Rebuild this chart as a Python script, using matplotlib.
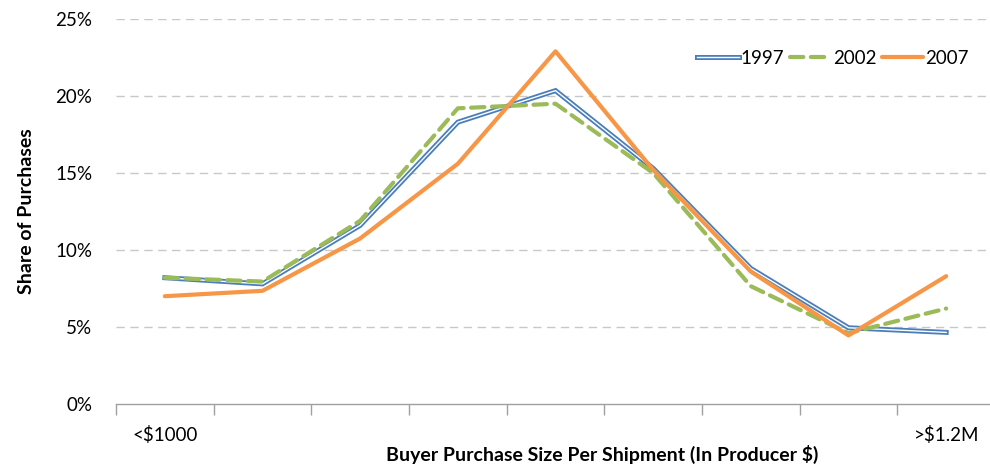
import matplotlib
matplotlib.use("Agg")
import matplotlib.pyplot as plt
import matplotlib.patheffects as pe
from matplotlib.ticker import FuncFormatter, FixedLocator, NullFormatter

plt.rcParams['font.family'] = ['Lato', 'DejaVu Sans']

categories = ["<$1000", "", "", "", "", "", "", "", ">$1.2M"]
s1997 = [8.2, 7.8, 11.6, 18.3, 20.35, 15.3, 8.8, 4.95, 4.65]
s2002 = [8.2, 7.95, 11.9, 19.2, 19.5, 15.0, 7.65, 4.6, 6.2]
s2007 = [7.0, 7.35, 10.75, 15.6, 22.9, 15.2, 8.6, 4.45, 8.3]
series_names = ["1997", "2002", "2007"]
yticks = [0, 5, 10, 15, 20, 25]

fig = plt.figure(figsize=(9.9, 4.67), dpi=100)
ax = fig.add_axes([116/990, 1-404/467, 879/990, (404-19)/467])

x = list(range(1, len(categories)+1))
blue, green, orange = '#4a7ebb', '#9bbb59', '#f79646'

ax.plot(x, s1997, color='white', lw=1.0, label=series_names[0], solid_joinstyle='miter',
        path_effects=[pe.Stroke(linewidth=3.6, foreground=blue), pe.Normal()])
ax.plot(x, s2002, color=green, lw=3.0, dashes=(3.2, 1.8), label=series_names[1],
        dash_capstyle='round')
ax.plot(x, s2007, color=orange, lw=3.0, label=series_names[2], solid_capstyle='round')

ax.set_xlim(0.5, len(categories)+0.5)
ax.set_ylim(0, 25)
ax.set_yticks(yticks)
ax.yaxis.set_major_formatter(FuncFormatter(lambda v, p: f"{int(v)}%"))
ax.tick_params(axis='y', length=0, labelsize=13.5, pad=17, colors='#000000')

ax.xaxis.set_major_locator(FixedLocator([i + 0.5 for i in range(0, len(categories)+1)]))
ax.xaxis.set_major_formatter(NullFormatter())
ax.xaxis.set_minor_locator(FixedLocator(x))
ax.set_xticklabels(categories, minor=True)
ax.tick_params(axis='x', which='major', length=8, color='#a0a0a0', width=1)
ax.tick_params(axis='x', which='minor', length=0, labelsize=13.5, pad=16)

for s in ['top', 'right', 'left']:
    ax.spines[s].set_visible(False)
ax.spines['bottom'].set_color('#a0a0a0')
ax.spines['bottom'].set_linewidth(1)

for v in yticks[1:]:
    ax.axhline(v, color='#c8c8c8', lw=1, dashes=(6, 4), zorder=0)

ax.set_ylabel("Share of Purchases", fontsize=14, fontweight='bold')
ax.set_xlabel("Buyer Purchase Size Per Shipment (In Producer $)", fontsize=14,
              fontweight='bold', va='center')
ax.yaxis.set_label_coords(-0.092, 0.5)
ax.xaxis.set_label_coords(0.553, -0.132)

leg = ax.legend(loc='center right', bbox_to_anchor=(978/990, 1-58/467),
                bbox_transform=fig.transFigure, ncol=3, frameon=False,
                fontsize=13.5, handlelength=2.2, handletextpad=0.1, columnspacing=0.3,
                borderpad=0)

fig.savefig("out.png", dpi=100)
